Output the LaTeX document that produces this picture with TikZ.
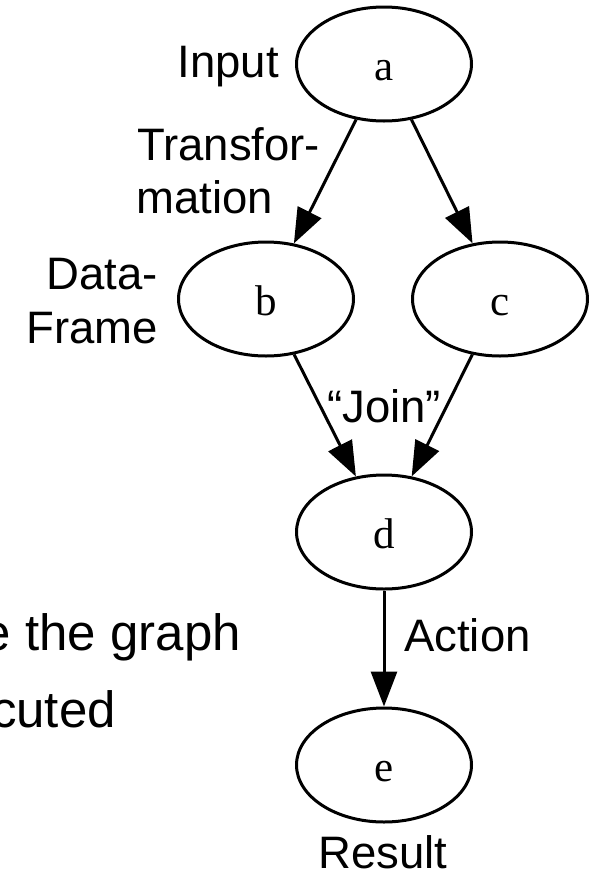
\documentclass[tikz,border=0pt]{standalone}
\usepackage{fontspec}
\setmainfont{Liberation Sans}
\newfontfamily\vertexfont{Liberation Serif}
\usetikzlibrary{shapes.geometric,arrows.meta}
\begin{document}
\begin{tikzpicture}[x=1pt,y=-1pt,
  vertex/.style={ellipse,draw,line width=3pt,minimum width=175pt,minimum height=114pt,
    inner sep=0pt,font=\vertexfont\fontsize{43}{43}\selectfont,text height=32pt,text depth=0pt},
  edge/.style={line width=3pt,-{Triangle[length=35pt,width=26pt]}},
  lbl/.style={font=\fontsize{45.5}{54}\selectfont,inner sep=0pt},
  side/.style={font=\fontsize{51}{60}\selectfont,inner sep=0pt}]
  % page frame
  \fill[white] (0,0) rectangle (592,876);
  \useasboundingbox (0,0) rectangle (592,876);

  % vertices
  \node[vertex] (a) at (384,64) {a};
  \node[vertex] (b) at (266,299) {b};
  \node[vertex] (c) at (500,299) {c};
  \node[vertex] (d) at (384,532) {d};
  \node[vertex] (e) at (384,765) {e};

  % edges
  \draw[edge] (a) -- (b);
  \draw[edge] (a) -- (c);
  \draw[edge] (b) -- (d);
  \draw[edge] (c) -- (d);
  \draw[edge] (d) -- (e);

  % annotations
  \node[lbl,anchor=base east] (tIn) at (279,77) {Input};
  \node[lbl,anchor=base west] (tTr1) at (137,160) {Transfor-};
  \node[lbl,anchor=base west] (tTr2) at (136,213) {mation};
  \node[lbl,anchor=base east] (tDf1) at (158,289) {Data-};
  \node[lbl,anchor=base east] (tDf2) at (158,343) {Frame};
  \node[lbl,anchor=base] (tJoin) at (384,422) {“Join”};
  \node[lbl,anchor=base west] (tAct) at (404,651) {Action};
  \node[lbl,anchor=base] (tRes) at (383,868) {Result};

  % running text at the left edge
  \node[side,anchor=base east] (tG1) at (241,650) {e the graph};
  \node[side,anchor=base east] (tG2) at (116,727) {cuted};
\end{tikzpicture}
\end{document}
